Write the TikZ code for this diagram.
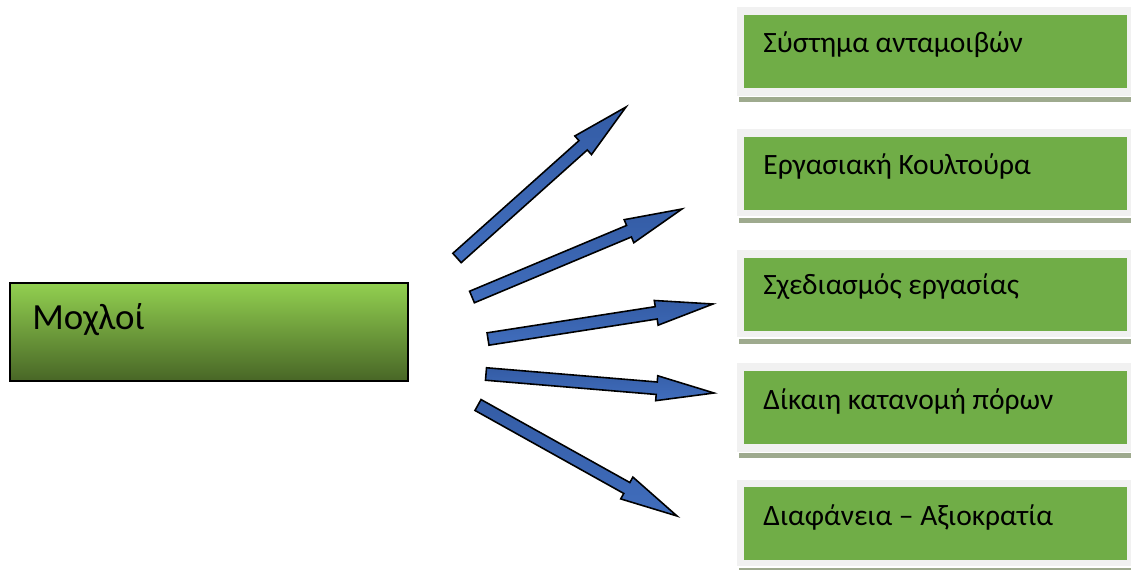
\documentclass[tikz,border=0pt]{standalone}
\usepackage{fontspec}
\setmainfont{Carlito}
\usetikzlibrary{calc}

\definecolor{framegray}{RGB}{241,241,241}
\definecolor{boxgreen}{RGB}{112,173,71}
\definecolor{shadowgray}{RGB}{158,170,142}
\definecolor{levertop}{RGB}{146,208,80}
\definecolor{levermid}{RGB}{128,184,70}
\definecolor{leverbot}{RGB}{72,102,38}
\definecolor{arrlight}{RGB}{72,122,210}
\definecolor{arrmid}{RGB}{52,92,165}

\tikzset{
  frame/.style={fill=framegray,draw=none},
  shadowbar/.style={fill=shadowgray,draw=none},
  greenbox/.style={fill=boxgreen,draw=none,inner sep=0pt,anchor=north west,
    minimum width=7.66cm,minimum height=1.46cm},
  boxtext/.style={font=\fontsize{16.8}{19}\selectfont,anchor=west,inner sep=0pt},
  blockarrow/.style={draw=black,line width=0.9pt,line join=miter,
    top color=arrmid,middle color=arrlight,bottom color=arrlight!90!black},
}

% block arrow from tail #1 to tip #2
\newcommand{\blockarr}[2]{%
  \coordinate (hb) at ($(#2)!1.15cm!(#1)$);
  \draw[blockarrow] ($(#1)!0.125cm!90:(#2)$) -- ($(hb)!0.125cm!90:(#2)$)
    -- ($(hb)!0.25cm!90:(#2)$) -- (#2) -- ($(hb)!0.25cm!-90:(#2)$)
    -- ($(hb)!0.125cm!-90:(#2)$) -- ($(#1)!0.125cm!-90:(#2)$) -- cycle;
}

\begin{document}
\begin{tikzpicture}[x=0.02cm,y=-0.02cm]
\useasboundingbox[fill=white] (0,0) rectangle (1131,570);

% left box
\draw[line width=1.1pt,top color=levertop,middle color=levermid,bottom color=leverbot]
  (10,283) rectangle (408,381);
\node[font=\fontsize{21}{24}\selectfont,anchor=west,inner sep=0pt] (moxloi) at (32,320) {Μοχλοί};

% right boxes
\fill[frame] (737,7) rectangle (1131,96);
\fill[shadowbar] (739,97) rectangle (1131,102);
\node[greenbox] (b1) at (744,15) {};
\node[boxtext] (t1) at (763,45) {Σύστημα ανταμοιβών};

\fill[frame] (737,129) rectangle (1131,216);
\fill[shadowbar] (739,218) rectangle (1131,223);
\node[greenbox] (b2) at (744,137) {};
\node[boxtext] (t2) at (763,166) {Εργασιακή Κουλτούρα};

\fill[frame] (737,250) rectangle (1131,337);
\fill[shadowbar] (739,339) rectangle (1131,344);
\node[greenbox] (b3) at (744,258) {};
\node[boxtext] (t3) at (763,287) {Σχεδιασμός εργασίας};

\fill[frame] (737,363) rectangle (1131,452);
\fill[shadowbar] (739,453) rectangle (1131,458);
\node[greenbox] (b4) at (744,371) {};
\node[boxtext] (t4) at (763,401) {Δίκαιη κατανομή πόρων};

\fill[frame] (737,480) rectangle (1131,566);
\fill[shadowbar] (739,568) rectangle (1131,573);
\node[greenbox] (b5) at (744,487) {};
\node[boxtext] (t5) at (763,517) {Διαφάνεια – Αξιοκρατία};

% arrows
\coordinate (a1) at (457,258);  \coordinate (p1) at (626,107);
\coordinate (a2) at (472,297);  \coordinate (p2) at (682,209);
\coordinate (a3) at (488,339);  \coordinate (p3) at (713,304);
\coordinate (a4) at (486,374);  \coordinate (p4) at (714,393);
\coordinate (a5) at (478,405);  \coordinate (p5) at (677,516);
\blockarr{a1}{p1}
\blockarr{a2}{p2}
\blockarr{a3}{p3}
\blockarr{a4}{p4}
\blockarr{a5}{p5}

\end{tikzpicture}
\end{document}
